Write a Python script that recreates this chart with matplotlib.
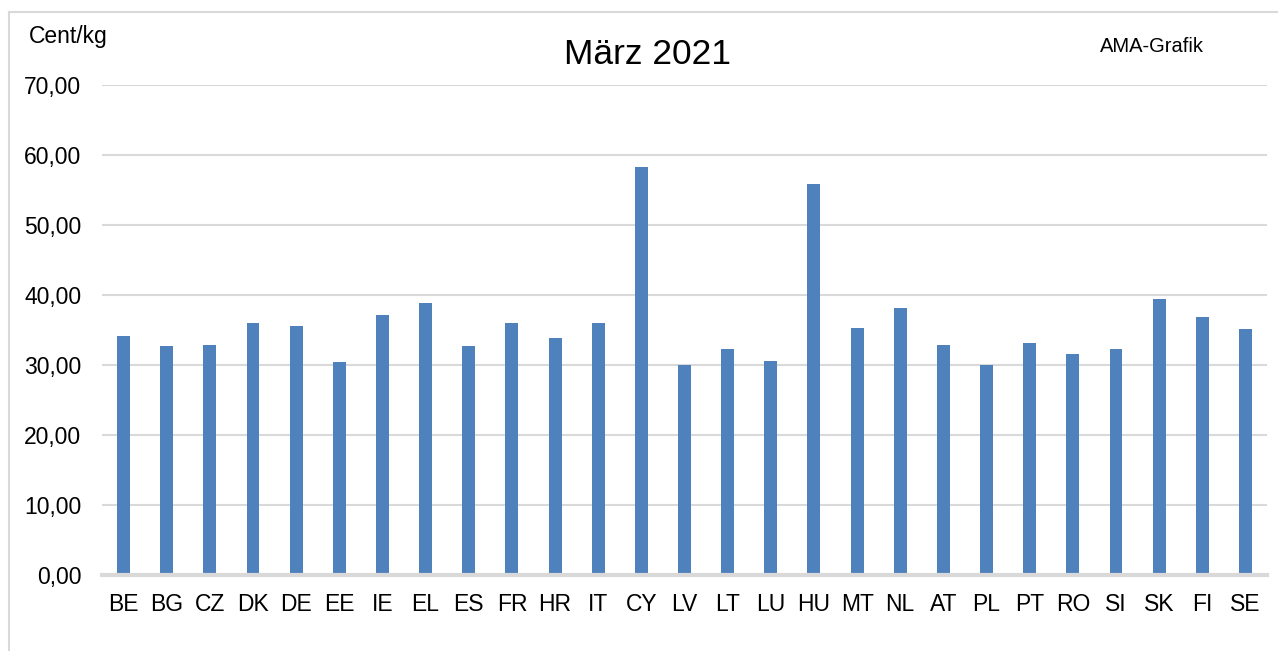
import matplotlib
matplotlib.use("Agg")
import matplotlib.pyplot as plt
from matplotlib.lines import Line2D
from matplotlib.ticker import FuncFormatter

countries = ["BE", "BG", "CZ", "DK", "DE", "EE", "IE", "EL", "ES", "FR", "HR", "IT", "CY",
             "LV", "LT", "LU", "HU", "MT", "NL", "AT", "PL", "PT", "RO", "SI", "SK", "FI", "SE"]
prices = [34.2, 32.7, 32.9, 36.0, 35.6, 30.5, 37.1, 38.9, 32.7, 36.0, 33.8, 36.0, 58.3,
          30.0, 32.3, 30.6, 55.9, 35.3, 38.2, 32.9, 30.05, 33.1, 31.6, 32.3, 39.5, 36.9, 35.2]
yticks = [0, 10, 20, 30, 40, 50, 60, 70]

plt.rcParams['font.family'] = ['Liberation Sans', 'DejaVu Sans']

W, H = 1278, 651
fig = plt.figure(figsize=(W / 100, H / 100), dpi=100)
ax = fig.add_axes([102 / W, 1 - 575 / H, (1267 - 102) / W, (575 - 85) / H])

x = range(len(countries))
ax.bar(x, prices, width=0.3, color="#4F81BD", zorder=3)

ax.set_xlim(-0.5, len(countries) - 0.5)
ax.set_ylim(0, 70)
ax.set_yticks(yticks)
ax.yaxis.set_major_formatter(FuncFormatter(lambda v, p: ("%.2f" % v).replace(".", ",")))
ax.set_xticks(list(x))
ax.set_xticklabels(countries)
ax.tick_params(axis="y", length=0, pad=15, labelsize=16.5)
ax.tick_params(axis="x", length=0, pad=13, labelsize=16.5)
ax.grid(axis="y", color="#d9d9d9", linewidth=1.5, zorder=0)
for s in ["top", "right", "left"]:
    ax.spines[s].set_visible(False)
ax.spines["bottom"].set_color("#d9d9d9")
ax.spines["bottom"].set_linewidth(3)
ax.spines["bottom"].set_zorder(4)

# texts
fig.text(29 / W, 1 - 37 / H, "Cent/kg", fontsize=16.5, ha="left", va="center")
fig.text(648 / W, 1 - 55 / H, "März 2021", fontsize=25.5, ha="center", va="center")
fig.text(1152 / W, 1 - 47 / H, "AMA-Grafik", fontsize=14.5, ha="center", va="center")

# outer frame
fig.add_artist(Line2D([9 / W, 1], [1 - 12 / H, 1 - 12 / H], color="#d9d9d9", linewidth=1.5))
fig.add_artist(Line2D([9 / W, 9 / W], [0, 1 - 12 / H], color="#d9d9d9", linewidth=1.5))

fig.savefig("out.png", dpi=100)
